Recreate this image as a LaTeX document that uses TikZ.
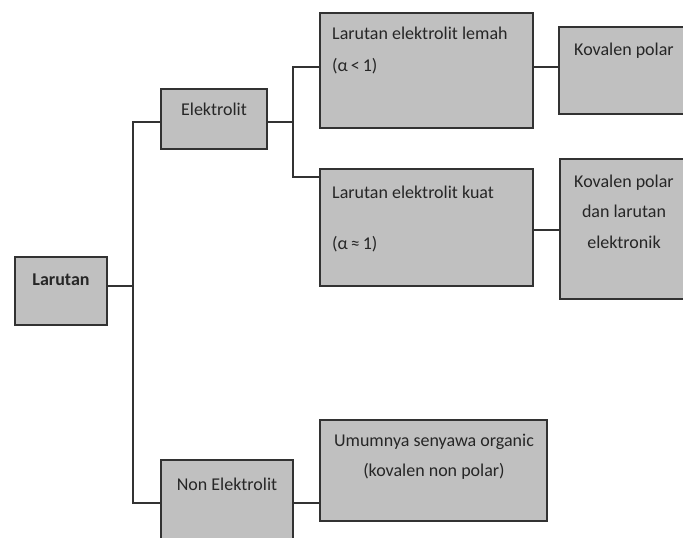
\documentclass[tikz,border=0pt]{standalone}
\usepackage{fontspec}
\setmainfont{Carlito}
\definecolor{boxfill}{RGB}{192,192,192}
\definecolor{edge}{RGB}{50,50,50}
\tikzset{
  box/.style={draw=edge, line width=1.3pt, fill=boxfill, anchor=north west, inner sep=0pt, outer sep=0pt},
  txt/.style={anchor=base, inner sep=0pt, font=\fontsize{18}{21}\selectfont, text=black!85},
  txtl/.style={txt, anchor=base west},
  conn/.style={draw=edge, line width=1.3pt}
}
\begin{document}
\begin{tikzpicture}[x=1pt, y=-1pt]
\useasboundingbox (0,0) rectangle (683,538);
\clip (0,0) rectangle (683,538);
\fill[white] (0,0) rectangle (683,538);
% boxes
\node[box, minimum width=92pt, minimum height=68pt] (larutan) at (15,257) {};
\node[box, minimum width=106pt, minimum height=60pt] (elek) at (161,89) {};
\node[box, minimum width=132pt, minimum height=110pt] (non) at (161,460) {};
\node[box, minimum width=213pt, minimum height=115pt] (lemah) at (320,13) {};
\node[box, minimum width=213pt, minimum height=117pt] (kuat) at (320,169) {};
\node[box, minimum width=227pt, minimum height=101pt] (umum) at (320,420) {};
\node[box, minimum width=134pt, minimum height=87pt] (kovpolar) at (559,27) {};
\node[box, minimum width=134pt, minimum height=140pt] (kovdan) at (560,159) {};
% texts
\node[txt, font=\fontsize{18}{21}\selectfont\bfseries] (tlarutan) at (61,285) {Larutan};
\node[txt] (telek) at (214,115) {Elektrolit};
\node[txt] (tnon) at (227,490) {Non Elektrolit};
\node[txtl] (tlemah1) at (332,39) {Larutan elektrolit lemah};
\node[txtl] (tlemah2) at (332,71) {(α\,<\,1)};
\node[txtl] (tkuat1) at (332,198) {Larutan elektrolit kuat};
\node[txtl] (tkuat2) at (332,249) {(α\,≈\,1)};
\node[txt] (tumum1) at (434,446) {Umumnya senyawa organic};
\node[txt] (tumum2) at (434,476) {(kovalen non polar)};
\node[txt] (tkov) at (624,55) {Kovalen polar};
\node[txt] (tkd1) at (624,187) {Kovalen polar};
\node[txt] (tkd2) at (624,217) {dan larutan};
\node[txt] (tkd3) at (624,248) {elektronik};
% connectors
\draw[conn] ([yshift=-29pt]larutan.north east) -- ++(26,0);
\draw[conn] ([yshift=-33pt]elek.north west) -- ++(-28,0) |- ([yshift=-43pt]non.north west);
\draw[conn] ([yshift=-33pt]elek.north east) -- ++(26,0);
\draw[conn] ([yshift=-54pt]lemah.north west) -- ++(-27,0) |- ([yshift=-8pt]kuat.north west);
\draw[conn] ([yshift=-54pt]lemah.north east) -- ([yshift=-40pt]kovpolar.north west);
\draw[conn] ([yshift=-61pt]kuat.north east) -- ([yshift=-71pt]kovdan.north west);
\draw[conn] ([yshift=-43pt]non.north east) -- ([yshift=-83pt]umum.north west);
\end{tikzpicture}
\end{document}
